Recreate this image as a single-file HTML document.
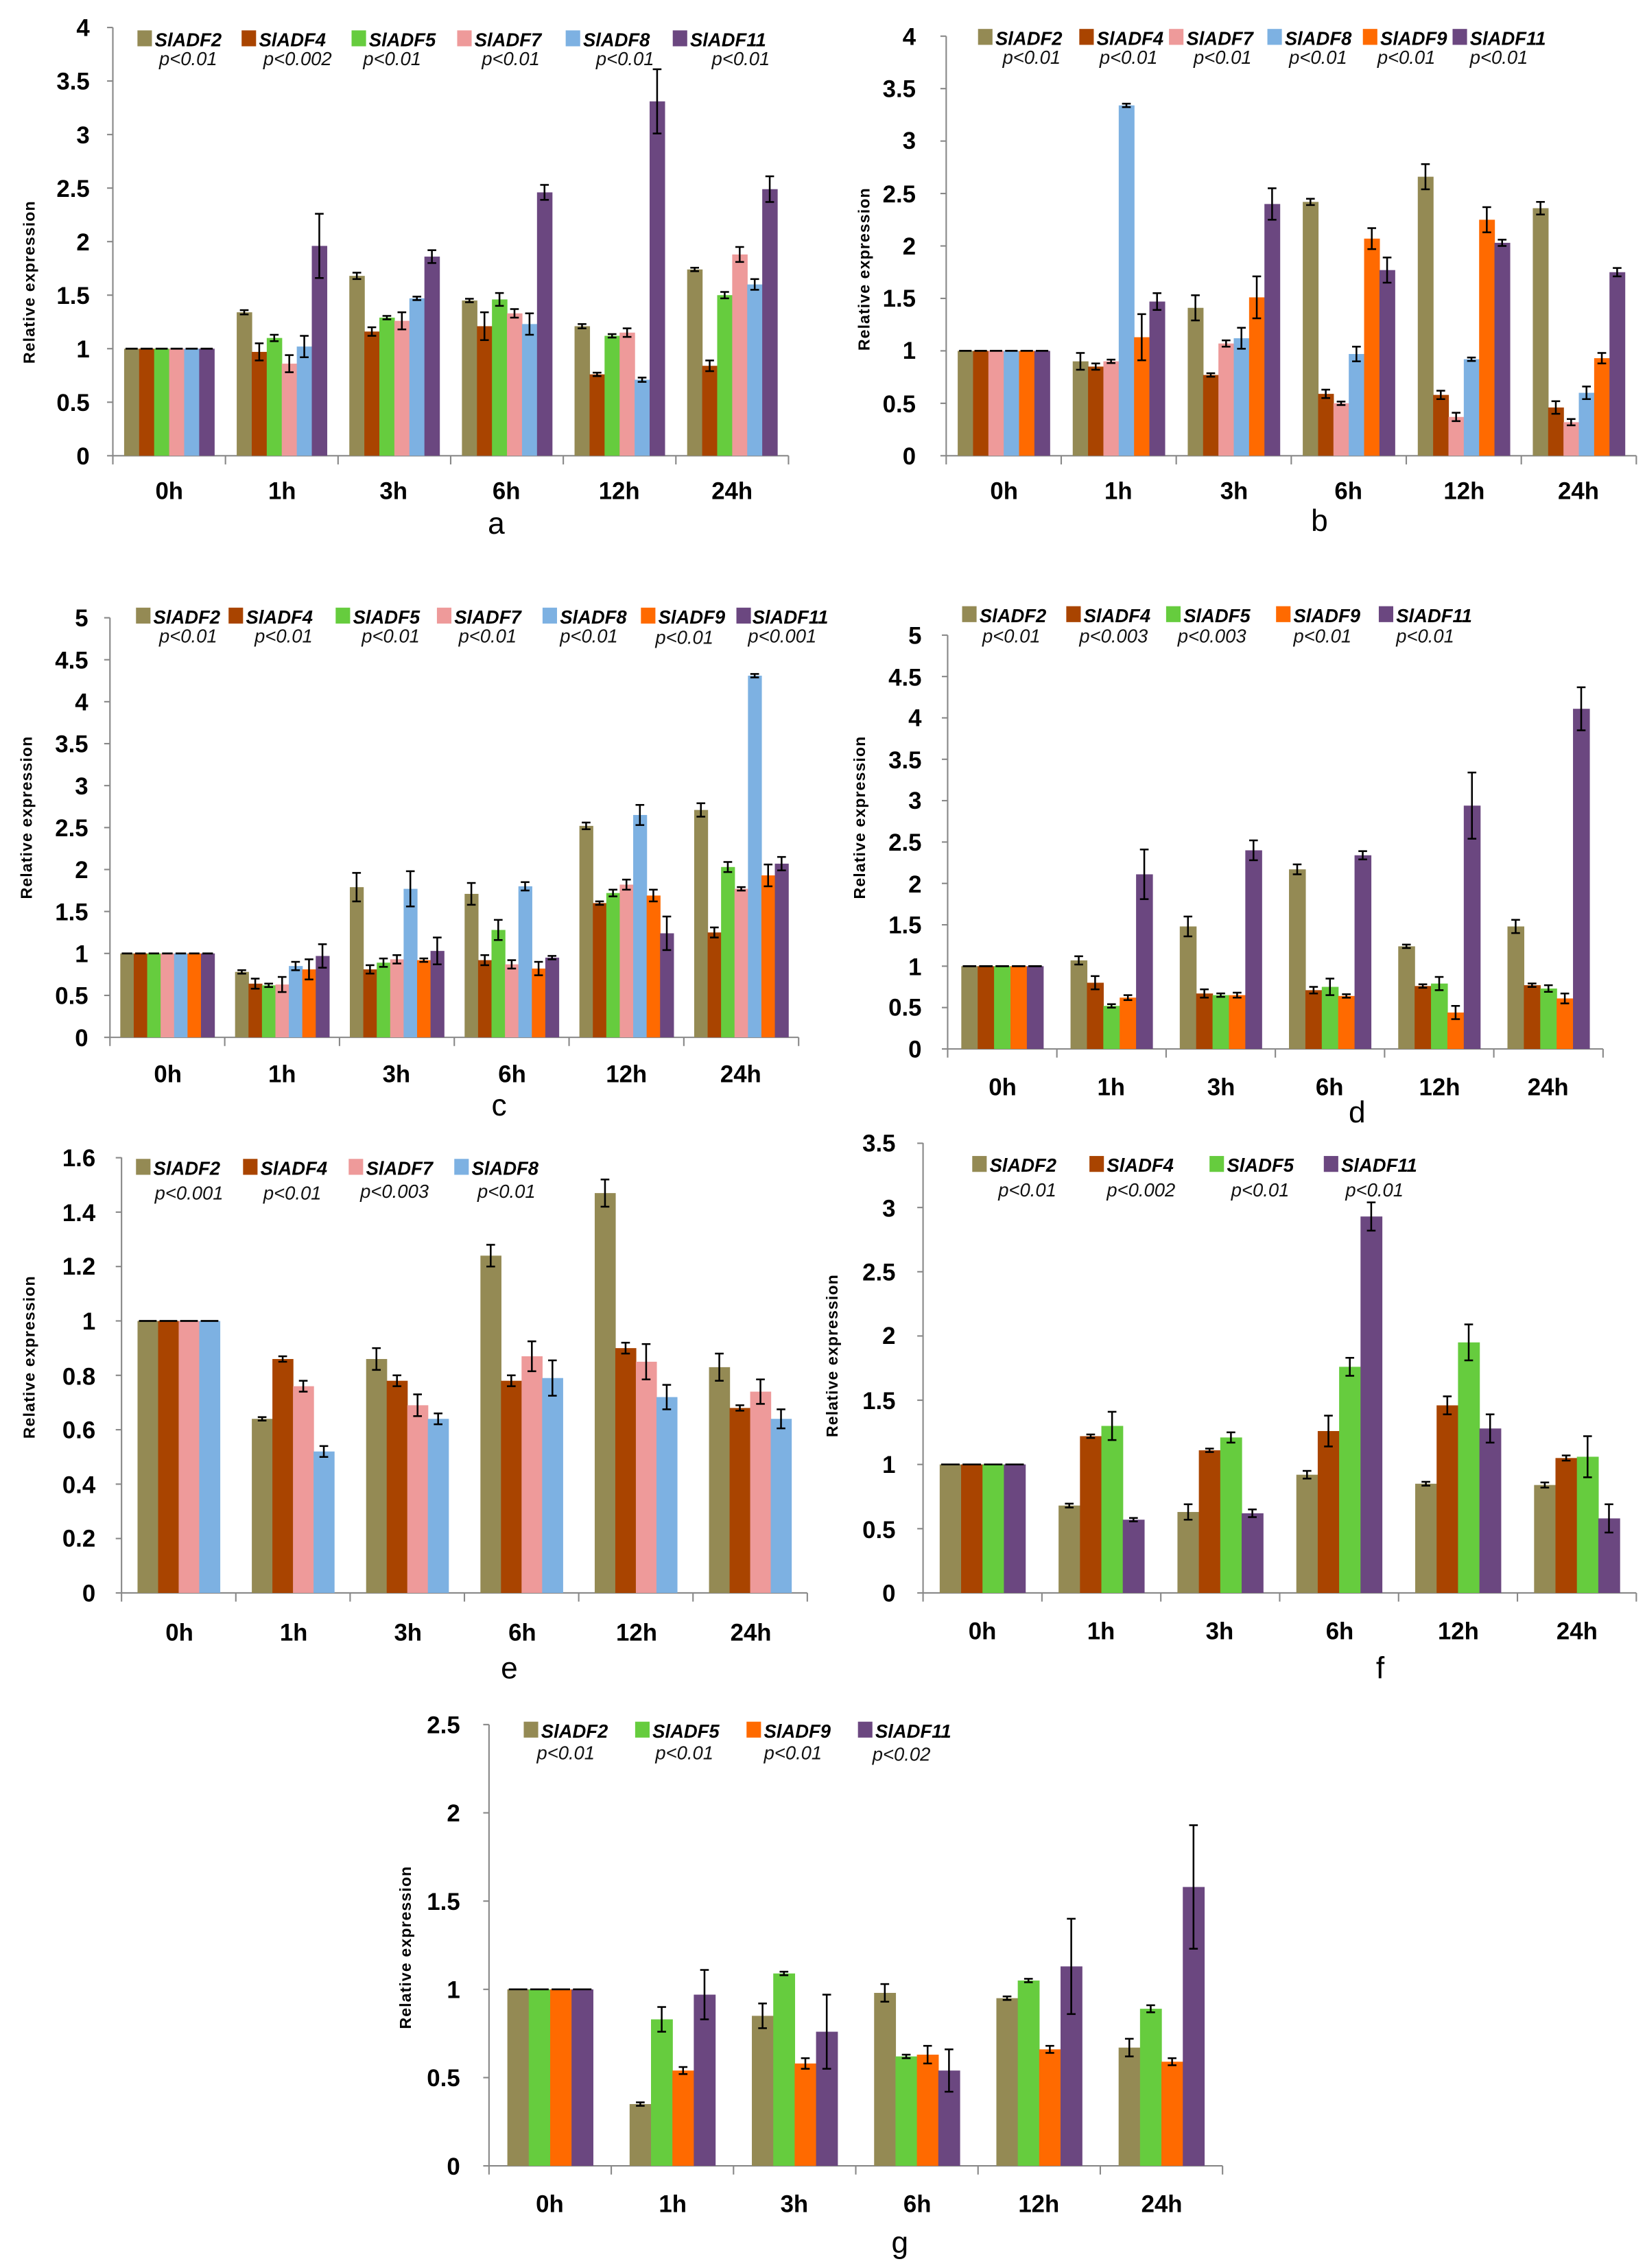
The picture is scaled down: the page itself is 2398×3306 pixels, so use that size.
<!DOCTYPE html>
<html><head><meta charset="utf-8"><style>
html,body{margin:0;padding:0;background:#fff}
svg{display:block}
.t{font-family:"Liberation Sans Narrow","Liberation Sans",sans-serif;font-weight:bold;font-size:16.5px;fill:#000}
.c{font-family:"Liberation Sans Narrow","Liberation Sans",sans-serif;font-weight:bold;font-size:16.5px;fill:#000;text-anchor:middle}
.y{font-family:"Liberation Sans",sans-serif;font-weight:bold;font-size:11px;fill:#000;text-anchor:middle;letter-spacing:0.5px}
.l{font-family:"Liberation Sans Narrow","Liberation Sans",sans-serif;font-weight:bold;font-style:italic;font-size:13px;fill:#000}
.p{font-family:"Liberation Sans Narrow","Liberation Sans",sans-serif;font-style:italic;font-size:13px;fill:#111}
.n{font-family:"Liberation Sans",sans-serif;font-size:21px;fill:#000;text-anchor:middle}
</style></head><body>
<svg id="s" xmlns="http://www.w3.org/2000/svg" width="2398" height="3306" viewBox="0 0 1137 1567.6" preserveAspectRatio="none">
<g id="bars"></g>
<g class="t" text-anchor="end">
<text x="62" y="321">0</text><text x="62" y="284">0.5</text><text x="62" y="247">1</text><text x="62" y="210">1.5</text><text x="62" y="173">2</text><text x="62" y="136">2.5</text><text x="62" y="99">3</text><text x="62" y="62">3.5</text><text x="62" y="25">4</text>
<text x="633" y="321">0</text><text x="633" y="285">0.5</text><text x="633" y="248">1</text><text x="633" y="212">1.5</text><text x="633" y="176">2</text><text x="633" y="140">2.5</text><text x="633" y="103">3</text><text x="633" y="67">3.5</text><text x="633" y="31">4</text>
<text x="61" y="723">0</text><text x="61" y="694">0.5</text><text x="61" y="665">1</text><text x="61" y="636">1.5</text><text x="61" y="607">2</text><text x="61" y="578">2.5</text><text x="61" y="549">3</text><text x="61" y="520">3.5</text><text x="61" y="491">4</text><text x="61" y="462">4.5</text><text x="61" y="433">5</text>
<text x="637" y="731">0</text><text x="637" y="702">0.5</text><text x="637" y="674">1</text><text x="637" y="645">1.5</text><text x="637" y="617">2</text><text x="637" y="588">2.5</text><text x="637" y="559">3</text><text x="637" y="531">3.5</text><text x="637" y="502">4</text><text x="637" y="474">4.5</text><text x="637" y="445">5</text>
<text x="66" y="1107">0</text><text x="66" y="1069">0.2</text><text x="66" y="1032">0.4</text><text x="66" y="994">0.6</text><text x="66" y="957">0.8</text><text x="66" y="919">1</text><text x="66" y="881">1.2</text><text x="66" y="844">1.4</text><text x="66" y="806">1.6</text>
<text x="619" y="1107">0</text><text x="619" y="1063">0.5</text><text x="619" y="1018">1</text><text x="619" y="974">1.5</text><text x="619" y="929">2</text><text x="619" y="885">2.5</text><text x="619" y="841">3</text><text x="619" y="796">3.5</text>
<text x="318" y="1503">0</text><text x="318" y="1442">0.5</text><text x="318" y="1381">1</text><text x="318" y="1320">1.5</text><text x="318" y="1259">2</text><text x="318" y="1198">2.5</text>
</g>
<g class="c">
<text x="117" y="345">0h</text><text x="195" y="345">1h</text><text x="272" y="345">3h</text><text x="350" y="345">6h</text><text x="428" y="345">12h</text><text x="506" y="345">24h</text>
<text x="694" y="345">0h</text><text x="773" y="345">1h</text><text x="853" y="345">3h</text><text x="932" y="345">6h</text><text x="1012" y="345">12h</text><text x="1091" y="345">24h</text>
<text x="116" y="748">0h</text><text x="195" y="748">1h</text><text x="274" y="748">3h</text><text x="354" y="748">6h</text><text x="433" y="748">12h</text><text x="512" y="748">24h</text>
<text x="693" y="757">0h</text><text x="768" y="757">1h</text><text x="844" y="757">3h</text><text x="919" y="757">6h</text><text x="995" y="757">12h</text><text x="1070" y="757">24h</text>
<text x="124" y="1134">0h</text><text x="203" y="1134">1h</text><text x="282" y="1134">3h</text><text x="361" y="1134">6h</text><text x="440" y="1134">12h</text><text x="519" y="1134">24h</text>
<text x="679" y="1133">0h</text><text x="761" y="1133">1h</text><text x="843" y="1133">3h</text><text x="926" y="1133">6h</text><text x="1008" y="1133">12h</text><text x="1090" y="1133">24h</text>
<text x="380" y="1529">0h</text><text x="465" y="1529">1h</text><text x="549" y="1529">3h</text><text x="634" y="1529">6h</text><text x="718" y="1529">12h</text><text x="803" y="1529">24h</text>
</g>
<g class="y">
<text transform="translate(24,195) rotate(-90)">Relative expression</text>
<text transform="translate(601,186) rotate(-90)">Relative expression</text>
<text transform="translate(22,565) rotate(-90)">Relative expression</text>
<text transform="translate(598,565) rotate(-90)">Relative expression</text>
<text transform="translate(24,938) rotate(-90)">Relative expression</text>
<text transform="translate(579,937) rotate(-90)">Relative expression</text>
<text transform="translate(284,1346) rotate(-90)">Relative expression</text>
</g>
<g class="n">
<text x="343" y="369">a</text><text x="912" y="367">b</text><text x="345" y="771">c</text><text x="938" y="776">d</text><text x="352" y="1160">e</text><text x="954" y="1160">f</text><text x="622" y="1557">g</text>
</g>
<g id="leg">
<rect x="95" y="21" width="10" height="11" fill="#948A54"/><text class="l" x="107" y="32">SlADF2</text><text class="p" x="110" y="45">p&lt;0.01</text>
<rect x="167" y="21" width="10" height="11" fill="#A94400"/><text class="l" x="179" y="32">SlADF4</text><text class="p" x="182" y="45">p&lt;0.002</text>
<rect x="243" y="21" width="10" height="11" fill="#66CC3E"/><text class="l" x="255" y="32">SlADF5</text><text class="p" x="251" y="45">p&lt;0.01</text>
<rect x="316" y="21" width="10" height="11" fill="#EE9A9A"/><text class="l" x="328" y="32">SlADF7</text><text class="p" x="333" y="45">p&lt;0.01</text>
<rect x="391" y="21" width="10" height="11" fill="#7DB1E2"/><text class="l" x="403" y="32">SlADF8</text><text class="p" x="412" y="45">p&lt;0.01</text>
<rect x="465" y="21" width="10" height="11" fill="#6B4780"/><text class="l" x="477" y="32">SlADF11</text><text class="p" x="492" y="45">p&lt;0.01</text>
<rect x="676" y="20" width="10" height="11" fill="#948A54"/><text class="l" x="688" y="31">SlADF2</text><text class="p" x="693" y="44">p&lt;0.01</text>
<rect x="746" y="20" width="10" height="11" fill="#A94400"/><text class="l" x="758" y="31">SlADF4</text><text class="p" x="760" y="44">p&lt;0.01</text>
<rect x="808" y="20" width="10" height="11" fill="#EE9A9A"/><text class="l" x="820" y="31">SlADF7</text><text class="p" x="825" y="44">p&lt;0.01</text>
<rect x="876" y="20" width="10" height="11" fill="#7DB1E2"/><text class="l" x="888" y="31">SlADF8</text><text class="p" x="891" y="44">p&lt;0.01</text>
<rect x="942" y="20" width="10" height="11" fill="#FF6A00"/><text class="l" x="954" y="31">SlADF9</text><text class="p" x="952" y="44">p&lt;0.01</text>
<rect x="1004" y="20" width="10" height="11" fill="#6B4780"/><text class="l" x="1016" y="31">SlADF11</text><text class="p" x="1016" y="44">p&lt;0.01</text>
<rect x="94" y="420" width="10" height="11" fill="#948A54"/><text class="l" x="106" y="431">SlADF2</text><text class="p" x="110" y="444">p&lt;0.01</text>
<rect x="158" y="420" width="10" height="11" fill="#A94400"/><text class="l" x="170" y="431">SlADF4</text><text class="p" x="176" y="444">p&lt;0.01</text>
<rect x="232" y="420" width="10" height="11" fill="#66CC3E"/><text class="l" x="244" y="431">SlADF5</text><text class="p" x="250" y="444">p&lt;0.01</text>
<rect x="302" y="420" width="10" height="11" fill="#EE9A9A"/><text class="l" x="314" y="431">SlADF7</text><text class="p" x="317" y="444">p&lt;0.01</text>
<rect x="375" y="420" width="10" height="11" fill="#7DB1E2"/><text class="l" x="387" y="431">SlADF8</text><text class="p" x="387" y="444">p&lt;0.01</text>
<rect x="443" y="420" width="10" height="11" fill="#FF6A00"/><text class="l" x="455" y="431">SlADF9</text><text class="p" x="453" y="445">p&lt;0.01</text>
<rect x="509" y="420" width="10" height="11" fill="#6B4780"/><text class="l" x="520" y="431">SlADF11</text><text class="p" x="517" y="444">p&lt;0.001</text>
<rect x="665" y="419" width="10" height="11" fill="#948A54"/><text class="l" x="677" y="430">SlADF2</text><text class="p" x="679" y="444">p&lt;0.01</text>
<rect x="737" y="419" width="10" height="11" fill="#A94400"/><text class="l" x="749" y="430">SlADF4</text><text class="p" x="746" y="444">p&lt;0.003</text>
<rect x="806" y="419" width="10" height="11" fill="#66CC3E"/><text class="l" x="818" y="430">SlADF5</text><text class="p" x="814" y="444">p&lt;0.003</text>
<rect x="882" y="419" width="10" height="11" fill="#FF6A00"/><text class="l" x="894" y="430">SlADF9</text><text class="p" x="894" y="444">p&lt;0.01</text>
<rect x="953" y="419" width="10" height="11" fill="#6B4780"/><text class="l" x="965" y="430">SlADF11</text><text class="p" x="965" y="444">p&lt;0.01</text>
<rect x="94" y="801" width="10" height="11" fill="#948A54"/><text class="l" x="106" y="812">SlADF2</text><text class="p" x="107" y="829">p&lt;0.001</text>
<rect x="168" y="801" width="10" height="11" fill="#A94400"/><text class="l" x="180" y="812">SlADF4</text><text class="p" x="182" y="829">p&lt;0.01</text>
<rect x="241" y="801" width="10" height="11" fill="#EE9A9A"/><text class="l" x="253" y="812">SlADF7</text><text class="p" x="249" y="828">p&lt;0.003</text>
<rect x="314" y="801" width="10" height="11" fill="#7DB1E2"/><text class="l" x="326" y="812">SlADF8</text><text class="p" x="330" y="828">p&lt;0.01</text>
<rect x="672" y="799" width="10" height="11" fill="#948A54"/><text class="l" x="684" y="810">SlADF2</text><text class="p" x="690" y="827">p&lt;0.01</text>
<rect x="753" y="799" width="10" height="11" fill="#A94400"/><text class="l" x="765" y="810">SlADF4</text><text class="p" x="765" y="827">p&lt;0.002</text>
<rect x="836" y="799" width="10" height="11" fill="#66CC3E"/><text class="l" x="848" y="810">SlADF5</text><text class="p" x="851" y="827">p&lt;0.01</text>
<rect x="915" y="799" width="10" height="11" fill="#6B4780"/><text class="l" x="927" y="810">SlADF11</text><text class="p" x="930" y="827">p&lt;0.01</text>
<rect x="362" y="1190" width="10" height="11" fill="#948A54"/><text class="l" x="374" y="1201">SlADF2</text><text class="p" x="371" y="1216">p&lt;0.01</text>
<rect x="439" y="1190" width="10" height="11" fill="#66CC3E"/><text class="l" x="451" y="1201">SlADF5</text><text class="p" x="453" y="1216">p&lt;0.01</text>
<rect x="516" y="1190" width="10" height="11" fill="#FF6A00"/><text class="l" x="528" y="1201">SlADF9</text><text class="p" x="528" y="1216">p&lt;0.01</text>
<rect x="593" y="1190" width="10" height="11" fill="#6B4780"/><text class="l" x="605" y="1201">SlADF11</text><text class="p" x="603" y="1217">p&lt;0.02</text>
</g>
</svg>
<script>
var C={2:"#948A54",4:"#A94400",5:"#66CC3E",7:"#EE9A9A",8:"#7DB1E2",9:"#FF6A00",11:"#6B4780"};
var NS="http://www.w3.org/2000/svg",G=document.getElementById("bars");
function el(n,a){var e=document.createElementNS(NS,n);for(var k in a)e.setAttribute(k,a[k]);G.appendChild(e);return e;}
function panel(p){
 var w=(p.x1-p.x0)/6, sc=p.ppu;
 el("line",{x1:p.x0,y1:p.top,x2:p.x0,y2:p.y0,stroke:"#888","stroke-width":1});
 el("line",{x1:p.x0,y1:p.y0,x2:p.x1,y2:p.y0,stroke:"#888","stroke-width":1});
 for(var t=0;t<=p.nt;t++){var yy=p.y0-t*p.tstep*sc;el("line",{x1:p.x0-4,y1:yy,x2:p.x0,y2:yy,stroke:"#888","stroke-width":1});}
 for(var i=0;i<=6;i++){var xx=p.x0+i*w;el("line",{x1:xx,y1:p.y0,x2:xx,y2:p.y0+6,stroke:"#888","stroke-width":1});}
 var n=p.genes.length,bw=w*p.frac/n;
 for(var g=0;g<6;g++){
  var gx=p.x0+g*w+(w-bw*n)/2;
  for(var j=0;j<n;j++){
   var v=g==0?1:p.d[g-1][j], e=g==0?0:p.e[g-1][j];
   var bx=gx+j*bw, by=p.y0-v*sc;
   el("rect",{x:bx,y:by,width:bw+0.3,height:v*sc,fill:C[p.genes[j]]});
   var cx=bx+bw/2, eh=Math.max(e*sc,1.2);
   if(g==0){el("line",{x1:bx+1,y1:by,x2:bx+bw-1,y2:by,stroke:"#000","stroke-width":1.3});continue;}
   el("line",{x1:cx,y1:by-eh,x2:cx,y2:by+eh,stroke:"#000","stroke-width":1.2});
   el("line",{x1:cx-3,y1:by-eh,x2:cx+3,y2:by-eh,stroke:"#000","stroke-width":1.2});
   el("line",{x1:cx-3,y1:by+eh,x2:cx+3,y2:by+eh,stroke:"#000","stroke-width":1.2});
  }
 }
}
panel({x0:78,x1:545,y0:315,top:19,ppu:74,tstep:.5,nt:8,frac:.8,genes:[2,4,5,7,8,11],
 d:[[1.34,.97,1.10,.86,1.02,1.96],[1.68,1.16,1.29,1.26,1.47,1.86],[1.45,1.21,1.46,1.33,1.23,2.46],[1.21,.76,1.12,1.15,.71,3.31],[1.74,.84,1.50,1.88,1.60,2.49]],
 e:[[.02,.08,.03,.08,.1,.3],[.03,.04,.01,.08,.01,.06],[.005,.13,.06,.04,.1,.07],[.02,.005,.01,.04,.02,.3],[.005,.05,.03,.07,.05,.12]]});
panel({x0:654,x1:1131,y0:315,top:25,ppu:72.5,tstep:.5,nt:8,frac:.8,genes:[2,4,7,8,9,11],
 d:[[.90,.85,.90,3.34,1.13,1.47],[1.41,.77,1.07,1.12,1.51,2.40],[2.42,.59,.50,.97,2.07,1.77],[2.66,.58,.37,.92,2.25,2.03],[2.36,.46,.32,.60,.93,1.75]],
 e:[[.08,.03,.005,.01,.22,.08],[.12,.005,.03,.1,.2,.15],[.03,.04,.005,.07,.1,.12],[.12,.04,.04,.01,.12,.03],[.06,.06,.03,.06,.05,.04]]});
panel({x0:76,x1:552,y0:717,top:427,ppu:58,tstep:.5,nt:10,frac:.82,genes:[2,4,5,7,8,9,11],
 d:[[.78,.64,.62,.63,.85,.81,.97],[1.79,.81,.89,.93,1.77,.92,1.03],[1.71,.92,1.28,.87,1.80,.82,.95],[2.52,1.60,1.72,1.82,2.65,1.69,1.24],[2.71,1.25,2.03,1.77,4.31,1.93,2.07]],
 e:[[.01,.06,.02,.09,.05,.12,.14],[.17,.05,.05,.05,.21,.01,.16],[.13,.06,.12,.05,.05,.08,.005],[.04,.01,.04,.06,.12,.07,.2],[.08,.06,.06,.01,.01,.13,.08]]});
panel({x0:655,x1:1108,y0:725,top:439,ppu:57.2,tstep:.5,nt:10,frac:.75,genes:[2,4,5,9,11],
 d:[[1.07,.80,.52,.62,2.11],[1.48,.67,.65,.65,2.40],[2.17,.71,.75,.64,2.34],[1.24,.76,.79,.44,2.94],[1.48,.77,.73,.61,4.11]],
 e:[[.05,.08,.02,.03,.3],[.12,.05,.005,.03,.12],[.06,.04,.1,.005,.05],[.01,.01,.08,.08,.4],[.08,.02,.04,.06,.26]]});
panel({x0:84,x1:558,y0:1101,top:800,ppu:188,tstep:.2,nt:8,frac:.72,genes:[2,4,7,8],
 d:[[.64,.86,.76,.52],[.86,.78,.69,.64],[1.24,.78,.87,.79],[1.47,.90,.85,.72],[.83,.68,.74,.64]],
 e:[[.003,.01,.02,.02],[.04,.02,.04,.02],[.04,.02,.055,.065],[.05,.02,.065,.045],[.05,.01,.045,.035]]});
panel({x0:638,x1:1131,y0:1101,top:790,ppu:88.8,tstep:.5,nt:7,frac:.72,genes:[2,4,5,11],
 d:[[.68,1.22,1.30,.57],[.63,1.11,1.21,.62],[.92,1.26,1.76,2.93],[.85,1.46,1.95,1.28],[.84,1.05,1.06,.58]],
 e:[[.015,.01,.11,.005],[.06,.005,.04,.03],[.03,.12,.07,.11],[.015,.07,.14,.11],[.02,.02,.16,.11]]});
panel({x0:338,x1:845,y0:1497,top:1192,ppu:122,tstep:.5,nt:5,frac:.7,genes:[2,5,9,11],
 d:[[.35,.83,.54,.97],[.85,1.09,.58,.76],[.98,.62,.63,.54],[.95,1.05,.66,1.13],[.67,.89,.59,1.58]],
 e:[[.003,.07,.02,.14],[.07,.01,.03,.21],[.05,.01,.05,.12],[.01,.005,.02,.27],[.05,.02,.02,.35]]});
</script>
</body></html>
